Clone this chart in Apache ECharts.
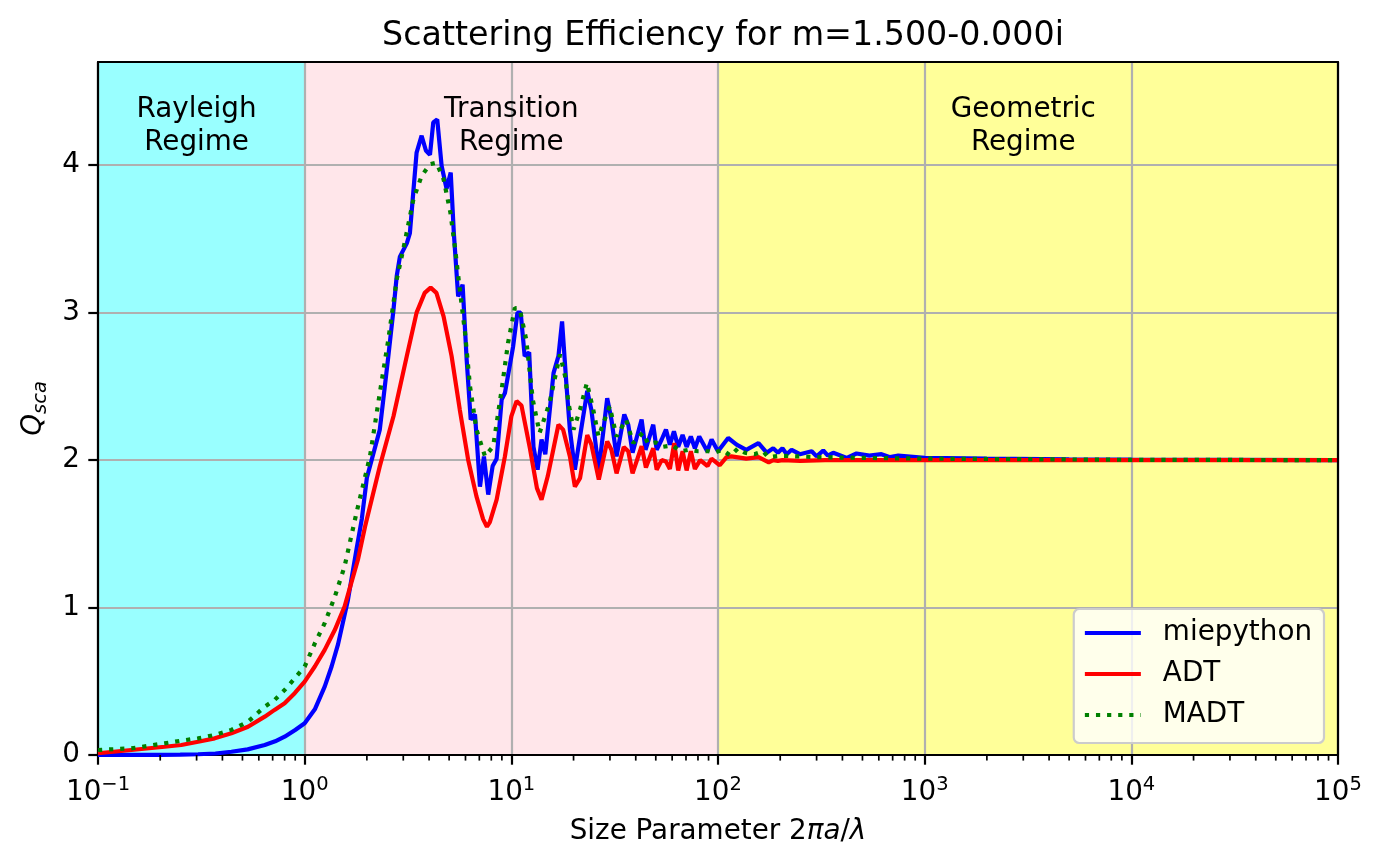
<!DOCTYPE html>
<html>
<head>
<meta charset="utf-8">
<script src="https://cdn.jsdelivr.net/npm/echarts@6/dist/echarts.min.js"></script>
<style>
html, body { margin: 0; padding: 0; background: #fff; }
#main { width: 1382px; height: 864px; }
</style>
</head>
<body>
<div id="main"></div>
<script>
// regimes (background bands)
var regimeNames = ['Rayleigh\nRegime', 'Transition\nRegime', 'Geometric\nRegime'];
var regimeStart = [0.1, 1, 100];
var regimeEnd = [1, 100, 1e5];
var regimeLabelX = [0.3, 10, 3000];
var regimeColors = ['#99ffff', '#ffe6ea', '#ffff99'];

// miepython
var mieX = [0.1, 0.15, 0.2, 0.25, 0.305, 0.37, 0.442, 0.53, 0.641, 0.72, 0.8, 0.9, 1.0, 1.12, 1.25, 1.35, 1.45, 1.62,
    1.78, 1.89, 2.0, 2.31, 2.54, 2.69, 2.79, 2.89,
    3.12, 3.23, 3.48, 3.68, 3.86, 4.04, 4.19, 4.38, 4.6, 4.86, 5.09, 5.27, 5.53, 5.81, 6.08, 6.36, 6.67, 7.05, 7.37,
    7.73, 8.12, 8.49, 8.98, 9.31, 10.2, 10.7, 11.1, 11.6, 12.2, 12.8, 13.4, 14.0, 14.6, 16.0, 16.9, 17.6, 18.5, 19.2,
    20.3, 21.5, 23.3, 24.4, 26.5, 29.1, 30.5, 32.3, 35.2, 36.8, 38.6, 42.7, 44.6, 48.6, 50.5, 53.4, 56.0, 58.5, 61.2,
    64.2, 67.4, 70.5, 73.9, 77.3, 81.1, 88.7, 93.1, 100, 112, 123, 137, 157, 172, 185, 195, 205, 215, 227, 249, 284,
    300, 323, 340, 361, 420, 468, 540, 618, 680, 745, 1000, 2000, 5000, 1e4, 1e5];
var mieQ = [0.0005, 0.0008, 0.001, 0.003, 0.005, 0.01, 0.022, 0.038, 0.068, 0.093, 0.124, 0.17, 0.215, 0.31, 0.464,
    0.6, 0.75, 1.053, 1.392, 1.6, 1.88, 2.207, 2.705, 3.02,
    3.25, 3.38, 3.47, 3.54, 4.086, 4.2, 4.1, 4.07, 4.29, 4.31, 3.995, 3.84, 3.95, 3.54, 3.11, 3.19, 2.68, 2.275, 2.31,
    1.82, 2.025, 1.766, 1.96, 2.01, 2.41, 2.455, 2.77, 3.0, 3.0, 2.705, 2.73, 2.09, 1.935, 2.14, 2.04, 2.59, 2.705,
    2.94, 2.5, 2.207, 1.935, 2.16, 2.47, 2.34, 1.935, 2.42, 2.275, 2.025, 2.31, 2.24, 2.05, 2.275, 2.07, 2.24, 2.07,
    2.14, 2.207, 2.105, 2.195, 2.09, 2.17, 2.09, 2.16, 2.08, 2.16, 2.06, 2.14, 2.06, 2.15, 2.105, 2.07, 2.115, 2.05,
    2.08, 2.05, 2.08, 2.04, 2.07, 2.04, 2.06, 2.025, 2.065, 2.03, 2.05, 2.015, 2.045, 2.03, 2.04, 2.02, 2.03, 2.015,
    2.01, 2.005, 2.003, 2.0];

// ADT
var adtX = [0.1, 0.145, 0.21, 0.253, 0.305, 0.367, 0.442, 0.532, 0.641, 0.715, 0.8, 0.895, 1.0, 1.12, 1.25, 1.4, 1.56,
    1.68, 1.81, 1.96, 2.31, 2.69, 3.12, 3.48, 3.81, 4.07, 4.34,
    4.7, 5.14, 5.63, 6.18, 6.78, 7.3, 7.62, 7.87, 8.49, 9.31, 10.0, 10.6, 11.2, 12.3, 13.3, 14.0, 15.0, 16.9, 17.8,
    19.2, 20.3, 21.5, 23.3, 24.4, 26.5, 29.1, 30.5, 32.3, 35.0, 36.8, 38.6, 42.7, 44.8, 48.6, 50.5, 53.4, 56.0, 58.5,
    61.4, 64.2, 67.4, 70.5, 73.9, 77.3, 82, 89, 93, 102, 110, 116, 137, 157, 176, 185, 195, 205, 250, 330, 1000, 1e5];
var adtQ = [0.012, 0.034, 0.056, 0.068, 0.09, 0.113, 0.147, 0.192, 0.26, 0.306, 0.351, 0.419, 0.498, 0.6, 0.713, 0.849,
    1.007, 1.166, 1.324, 1.55, 1.958, 2.297, 2.705, 3.0, 3.134,
    3.17, 3.134, 2.975, 2.705, 2.343, 2.003, 1.754, 1.6, 1.548, 1.58, 1.732, 2.025, 2.297, 2.4, 2.37, 2.08, 1.81,
    1.732, 1.89, 2.24, 2.207, 2.025, 1.82, 1.878, 2.17, 2.105, 1.868, 2.127, 2.07, 1.91, 2.088, 2.06, 1.91, 2.094,
    1.95, 2.08, 1.935, 2.0, 1.99, 1.94, 2.115, 1.93, 2.06, 1.93, 2.06, 1.94, 2.0, 1.96, 2.01, 1.965, 2.02, 2.025,
    2.01, 2.02, 1.985, 2.0, 1.995, 2.0, 1.995, 2.0, 2.0, 2.0];

// MADT
var madtX = [0.1, 0.145, 0.21, 0.253, 0.305, 0.367, 0.442, 0.532, 0.641, 0.715, 0.8, 0.895, 1.0, 1.12, 1.25, 1.4, 1.56,
    1.78, 2.07, 2.31, 2.54, 2.79, 3.0, 3.36, 3.68, 4.04,
    4.34, 4.7, 5.07, 5.35, 5.63, 5.97, 6.31, 6.78, 7.46, 8.17, 8.98, 9.64, 10.4, 11.0, 11.8, 12.7, 13.7, 15.3, 17.2,
    18.2, 18.9, 20.0, 21.5, 23.2, 24.9, 26.4, 29.9, 32.3, 35.9, 38.9, 43.2, 46, 50, 54, 60, 66, 72, 80, 90, 96, 105,
    115, 125, 135, 150, 165, 175, 200, 300, 500, 1000, 1e4, 1e5];
var madtQ = [0.034, 0.045, 0.079, 0.097, 0.113, 0.136, 0.17, 0.226, 0.328, 0.373, 0.441, 0.52, 0.6, 0.757, 0.894, 1.075,
    1.279, 1.641, 2.025, 2.455, 2.818, 3.226, 3.43, 3.77,
    3.927, 4.007, 4.017, 3.905, 3.68, 3.43, 3.158, 2.864, 2.5, 2.207, 2.025, 2.094, 2.479, 2.795, 3.032, 3.02, 2.818,
    2.41, 2.185, 2.387, 2.716, 2.57, 2.387, 2.207, 2.343, 2.524, 2.343, 2.16, 2.365, 2.16, 2.275, 2.115, 2.185, 2.11,
    2.12, 2.09, 2.1, 2.06, 2.07, 2.06, 2.06, 2.05, 2.07, 2.03, 2.08, 2.05, 2.04, 2.06, 2.02, 2.03, 2.02, 2.015, 2.01,
    2.002, 2.0];

var FONT = '"DejaVu Sans", sans-serif';
var labelY = 4.265; // vertical centre of the regime captions

// minor tick positions 2..9 x 10^n
var minorTicks = [];
for (var n = -1; n <= 4; n++) {
    for (var k = 2; k <= 9; k++) {
        minorTicks.push([k * Math.pow(10, n)]);
    }
}

function pairs(xs, ys) {
    return xs.map(function (x, i) { return [x, ys[i]]; });
}

var chart = echarts.init(document.getElementById('main'));

var option = {
    animation: false,
    backgroundColor: '#ffffff',
    textStyle: { fontFamily: FONT },
    title: {
        text: 'Scattering Efficiency for m=1.500-0.000i',
        left: 718,
        top: 15,
        textAlign: 'center',
        textStyle: { fontSize: 33.3, fontWeight: 'normal', fontFamily: FONT, color: '#000' }
    },
    grid: { left: 98, right: 44, top: 62, bottom: 109 },
    legend: {
        data: ['miepython', 'ADT', 'MADT'],
        orient: 'vertical',
        right: 58,
        bottom: 121,
        itemWidth: 56,
        itemHeight: 14,
        itemGap: 13,
        padding: [10, 12, 14, 9],
        backgroundColor: 'rgba(255,255,255,0.8)',
        borderColor: '#cccccc',
        borderWidth: 2.2,
        borderRadius: 5.6,
        itemStyle: { opacity: 0 },
        lineStyle: { width: 4.2 },
        textStyle: { fontSize: 27.8, fontFamily: FONT, color: '#000', padding: [0, 0, 0, 17], lineHeight: 28 }
    },
    xAxis: [{
        type: 'log',
        logBase: 10,
        min: 0.1,
        max: 1e5,
        position: 'bottom',
        z: 1,
        axisLine: { onZero: false, lineStyle: { color: '#000', width: 2.2 } },
        axisTick: { length: 9.7, lineStyle: { color: '#000', width: 2.2 } },
        axisLabel: {
            margin: 18,
            color: '#000',
            formatter: function (v) {
                var e = Math.round(Math.log(v) / Math.LN10);
                return '{b|10}{s|' + (e < 0 ? '\u2212' + (-e) : e) + '}';
            },
            rich: {
                b: { fontSize: 27.8, fontFamily: FONT, color: '#000', lineHeight: 34, verticalAlign: 'bottom' },
                s: { fontSize: 19.5, fontFamily: FONT, color: '#000', lineHeight: 20, verticalAlign: 'bottom', padding: [0, 0, 12, 0] }
            }
        },
        splitLine: { show: true, lineStyle: { color: '#b0b0b0', width: 2.2 } },
        name: '{n|Size Parameter 2}{i|\u03c0a}{n|/}{i|\u03bb}',
        nameLocation: 'middle',
        nameGap: 63,
        nameTextStyle: {
            rich: {
                n: { fontSize: 27.8, fontFamily: FONT, color: '#000' },
                i: { fontSize: 27.8, fontFamily: FONT, color: '#000', fontStyle: 'italic' }
            }
        }
    }, {
        type: 'value',
        position: 'top',
        min: 0,
        max: 1,
        z: 3,
        axisLine: { show: true, onZero: false, lineStyle: { color: '#000', width: 2.2 } },
        axisTick: { show: false },
        axisLabel: { show: false },
        splitLine: { show: false }
    }],
    yAxis: [{
        type: 'value',
        min: 0,
        max: 4.7,
        interval: 1,
        z: 1,
        axisLine: { show: true, onZero: false, lineStyle: { color: '#000', width: 2.2 } },
        axisTick: { show: true, length: 9.7, lineStyle: { color: '#000', width: 2.2 } },
        axisLabel: { margin: 18, fontSize: 27.8, fontFamily: FONT, color: '#000', showMaxLabel: false },
        splitLine: { show: true, lineStyle: { color: '#b0b0b0', width: 2.2 } },
        name: '{q|Q}{s|sca}',
        nameLocation: 'middle',
        nameRotate: 90,
        nameGap: 44,
        nameTextStyle: {
            rich: {
                q: { fontSize: 27.8, fontFamily: FONT, color: '#000', fontStyle: 'italic', lineHeight: 34, verticalAlign: 'top' },
                s: { fontSize: 19.5, fontFamily: FONT, color: '#000', fontStyle: 'italic', lineHeight: 20, verticalAlign: 'top', padding: [12, 0, 0, 0] }
            }
        }
    }, {
        type: 'value',
        position: 'right',
        min: 0,
        max: 1,
        z: 3,
        axisLine: { show: true, onZero: false, lineStyle: { color: '#000', width: 2.2 } },
        axisTick: { show: false },
        axisLabel: { show: false },
        splitLine: { show: false }
    }],
    series: [
        {
            // background bands
            type: 'custom',
            z: 0,
            silent: true,
            data: regimeStart.map(function (s, i) { return [s, regimeEnd[i], i]; }),
            encode: { x: [0, 1] },
            renderItem: function (params, api) {
                var cs = params.coordSys;
                var x0 = api.coord([api.value(0), 1])[0];
                var x1 = api.coord([api.value(1), 1])[0];
                return {
                    type: 'rect',
                    shape: { x: x0, y: cs.y, width: x1 - x0, height: cs.height },
                    style: { fill: regimeColors[api.value(2)] }
                };
            }
        },
        {
            // regime captions
            type: 'custom',
            z: 4,
            silent: true,
            data: regimeLabelX.map(function (x, i) { return [x, i]; }),
            encode: { x: 0 },
            renderItem: function (params, api) {
                var p = api.coord([api.value(0), labelY]);
                return {
                    type: 'text',
                    x: p[0],
                    y: p[1],
                    style: {
                        text: regimeNames[api.value(1)],
                        fill: '#000',
                        fontSize: 27.8,
                        fontFamily: FONT,
                        lineHeight: 33.4,
                        align: 'center',
                        verticalAlign: 'middle'
                    }
                };
            }
        },
        {
            // minor ticks of the log axis
            type: 'custom',
            z: 4,
            silent: true,
            data: minorTicks,
            encode: { x: 0 },
            renderItem: function (params, api) {
                var cs = params.coordSys;
                var p = api.coord([api.value(0), 0]);
                var yb = cs.y + cs.height;
                return {
                    type: 'line',
                    shape: { x1: p[0], y1: yb, x2: p[0], y2: yb + 5.6 },
                    style: { stroke: '#000', lineWidth: 1.7 }
                };
            }
        },
        {
            name: 'miepython',
            type: 'line',
            z: 2,
            data: pairs(mieX, mieQ),
            symbol: 'none',
            showSymbol: false,
            itemStyle: { color: '#0000ff' },
            lineStyle: { color: '#0000ff', width: 4.2 }
        },
        {
            name: 'ADT',
            type: 'line',
            z: 2,
            data: pairs(adtX, adtQ),
            symbol: 'none',
            showSymbol: false,
            itemStyle: { color: '#ff0000' },
            lineStyle: { color: '#ff0000', width: 4.2 }
        },
        {
            name: 'MADT',
            type: 'line',
            z: 2,
            data: pairs(madtX, madtQ),
            symbol: 'none',
            showSymbol: false,
            itemStyle: { color: '#008000' },
            lineStyle: { color: '#008000', width: 4.2, type: [4.2, 6.9], cap: 'butt' }
        }
    ]
};

chart.setOption(option);
</script>
</body>
</html>
